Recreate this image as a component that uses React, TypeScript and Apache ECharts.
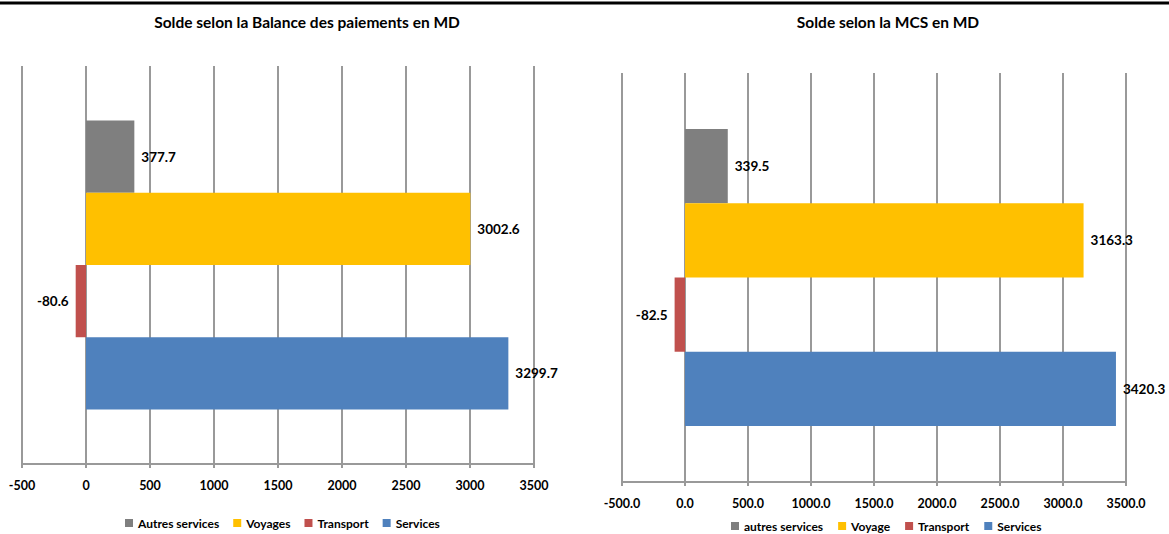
import React, { useEffect, useRef } from "react";
import * as echarts from "echarts";

const leftTitle = "Solde selon la Balance des paiements en MD";
const rightTitle = "Solde selon la MCS en MD";
const leftSeriesNames = ["Autres services", "Voyages", "Transport", "Services"];
const rightSeriesNames = ["autres services", "Voyage", "Transport", "Services"];
const leftValues = [377.7, 3002.6, -80.6, 3299.7];
const rightValues = [339.5, 3163.3, -82.5, 3420.3];
const seriesColors = ["#7f7f7f", "#ffc000", "#c0504d", "#4f81bd"];
const axisMin = -500;
const axisMax = 3500;
const axisStep = 500;

const FONT = "Lato, 'Open Sans', sans-serif";

function makeSeries(names: string[], values: number[], axisIdx: number) {
  return names.map((name, i) => ({
    name,
    type: "bar",
    xAxisIndex: axisIdx,
    yAxisIndex: axisIdx,
    barGap: "0%",
    barCategoryGap: "27.4%",
    itemStyle: { color: seriesColors[i] },
    label: {
      show: true,
      distance: 7,
      color: "#000",
      fontWeight: "bold",
      fontSize: 13.5,
      fontFamily: FONT,
      formatter: (p: any) => Number(p.value).toFixed(1),
    },
    data: [
      {
        value: values[i],
        label: { position: values[i] < 0 ? "left" : "right" },
      },
    ],
  }));
}

function makeXAxis(gridIndex: number, decimals: boolean) {
  return {
    type: "value",
    gridIndex,
    min: axisMin,
    max: axisMax,
    interval: axisStep,
    axisLine: { show: true, onZero: false, lineStyle: { color: "#999", width: 2 } },
    axisTick: { show: true, length: 4, lineStyle: { color: "#999", width: 2 } },
    splitLine: { show: true, lineStyle: { color: "#999", width: 2 } },
    axisLabel: {
      margin: 15,
      color: "#000",
      fontWeight: "bold",
      fontSize: 12.5,
      fontFamily: FONT,
      formatter: (v: number) => (decimals ? v.toFixed(1) : String(v)),
    },
  };
}

function makeYAxis(gridIndex: number) {
  return {
    type: "category",
    gridIndex,
    data: [""],
    axisLine: { show: false },
    axisTick: { show: false },
    axisLabel: { show: false },
    splitLine: { show: false },
  };
}

export default function App() {
  const ref = useRef<HTMLDivElement>(null);
  useEffect(() => {
    if (!ref.current) return;
    const chart = echarts.init(ref.current, undefined, { renderer: "svg" });
    const legendText = {
      color: "#000",
      fontWeight: "bold",
      fontSize: 12,
      fontFamily: FONT,
    };
    const titleText = { fontSize: 15.5, fontWeight: "bold", color: "#000", fontFamily: FONT };
    chart.setOption({
      animation: false,
      backgroundColor: "#fff",
      title: [
        { text: leftTitle, left: 302, top: 9, textAlign: "center", textStyle: titleText },
        { text: rightTitle, left: 883, top: 9, textAlign: "center", textStyle: titleText },
      ],
      legend: [
        {
          data: leftSeriesNames,
          left: 120,
          top: 512,
          itemWidth: 8,
          itemHeight: 8,
          itemGap: 14,
          icon: "rect",
          textStyle: legendText,
        },
        {
          data: rightSeriesNames,
          left: 726,
          top: 515,
          itemWidth: 8,
          itemHeight: 8,
          itemGap: 15,
          icon: "rect",
          textStyle: legendText,
        },
      ],
      grid: [
        { left: 22, right: 1169 - 534, top: 66, bottom: 534 - 464 },
        { left: 622, right: 1169 - 1126, top: 73, bottom: 534 - 482 },
      ],
      xAxis: [makeXAxis(0, false), makeXAxis(1, true)],
      yAxis: [makeYAxis(0), makeYAxis(1)],
      series: [
        ...makeSeries(leftSeriesNames, leftValues, 0),
        ...makeSeries(rightSeriesNames, rightValues, 1),
      ],
      graphic: [
        {
          type: "line",
          shape: { x1: 0, y1: 3, x2: 1169, y2: 3 },
          style: { stroke: "#000", lineWidth: 3 },
          silent: true,
        },
      ],
    });
    return () => chart.dispose();
  }, []);
  return (
    <div
      ref={ref}
      style={{ position: "absolute", left: 0, top: 0, width: 1169, height: 534 }}
    />
  );
}
